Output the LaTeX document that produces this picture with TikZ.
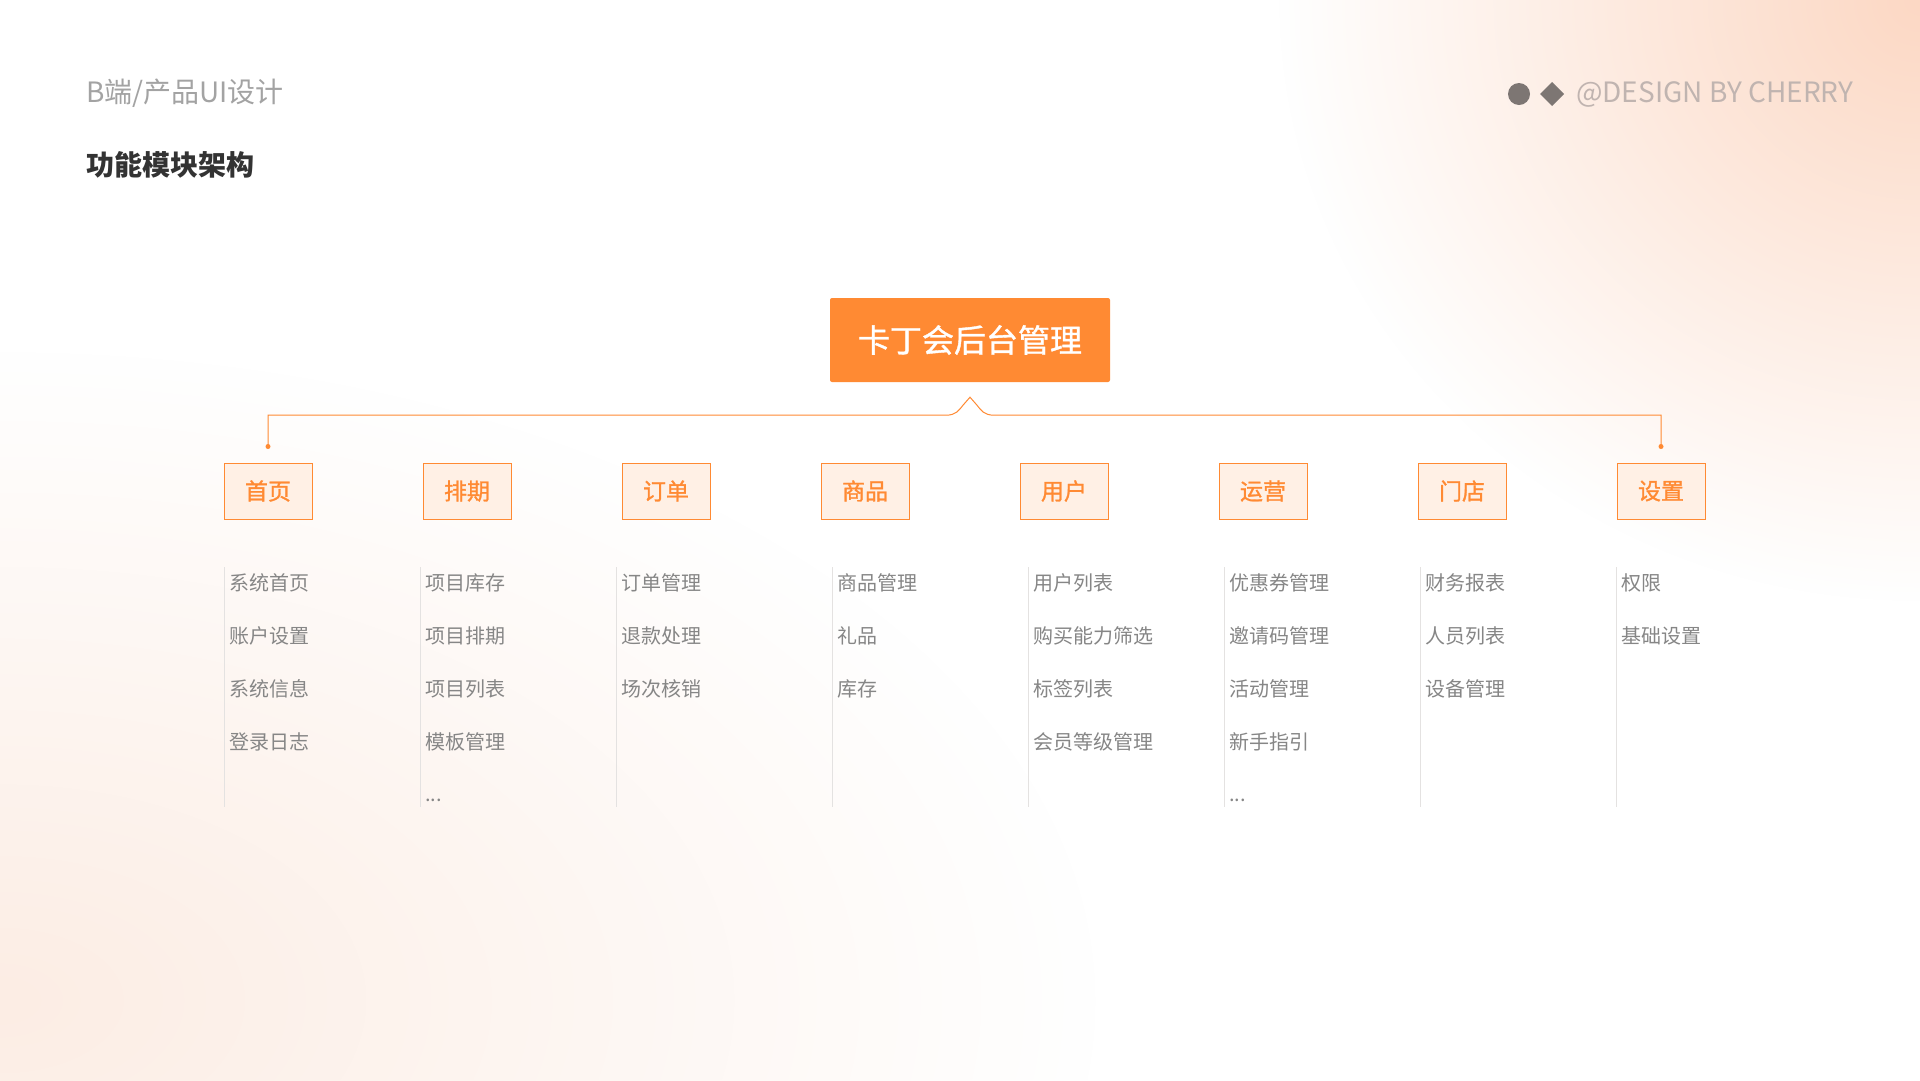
\documentclass[tikz,border=0pt]{standalone}
\usepackage{fontspec}
\setmainfont{Noto Sans CJK SC}
\newfontfamily\midfont[FakeBold=1.2]{Noto Sans CJK SC}
\usetikzlibrary{positioning, chains, fadings, calc}

\definecolor{kdOrange}{HTML}{FF8A33}
\definecolor{kdFill}{HTML}{FFF0E5}
\definecolor{itemGray}{HTML}{868686}
\definecolor{ruleGray}{HTML}{E4E2E1}
\definecolor{titleGray}{HTML}{A3A3A3}
\definecolor{darkText}{HTML}{333333}
\definecolor{markGray}{HTML}{7D7673}
\definecolor{signGray}{HTML}{C0B4B0}
\definecolor{bgPeach}{HTML}{FCD8C4}
\definecolor{bgPeachLight}{HTML}{FCEDE4}

\tikzfading[name=glow, inner color=transparent!0, outer color=transparent!100]

\tikzstyle{module} = [draw=kdOrange, line width=1pt, fill=kdFill, text=kdOrange, minimum width=88pt, minimum height=56pt, inner sep=0pt, font=\fontsize{23}{27}\midfont]
\tikzstyle{item} = [text=itemGray, text width=150pt, align=left, minimum height=24pt, inner sep=0pt, font=\fontsize{20}{24}\selectfont]
\tikzstyle{link} = [kdOrange, line width=1pt]

\begin{document}
\begin{tikzpicture}[
    x=1pt, y=-1pt,
    rule/.style={ruleGray, line width=1pt},
    every chain/.style={node distance=28.7pt}
]

% Background
\useasboundingbox (0,0) rectangle (1920,1080);
\fill[white] (0,0) rectangle (1920,1080);
\begin{scope}
\clip (0,0) rectangle (1920,1080);
\fill[bgPeach, path fading=glow] (1920,0) ellipse (640pt and 600pt);
\fill[bgPeachLight, path fading=glow] (0,1000) ellipse (1100pt and 650pt);
\end{scope}

% Header
\node[anchor=west, inner sep=0pt, text=titleGray, font=\fontsize{28}{32}\selectfont] (subject) at (86,93) {B端/产品UI设计};
\node[anchor=west, inner sep=0pt, text=darkText, font=\fontsize{28}{32}\selectfont\bfseries] (heading) at (86,165) {功能模块架构};
\fill[markGray] (1519,94) circle (11pt);
\fill[markGray] (1552,82) -- (1564,94) -- (1552,106) -- (1540,94) -- cycle;
\node[anchor=west, inner sep=0pt, text=signGray, font=\fontsize{28}{32}\selectfont] (sign) at (1576,94) {@DESIGN BY CHERRY};

% Nodes
\node[fill=kdOrange, rounded corners=2pt, minimum width=280pt, minimum height=84pt, inner sep=0pt, text=white, font=\fontsize{32}{36}\midfont] (main) at (970,340) {卡丁会后台管理};

\begin{scope}[start chain=modules going right, node distance=110pt]
\node[module, on chain] (home) at (268,491) {首页};
\node[module, on chain] (schedule) {排期};
\node[module, on chain] (order) {订单};
\node[module, on chain] (goods) {商品};
\node[module, on chain] (user) {用户};
\node[module, on chain] (operation) {运营};
\node[module, on chain] (store) {门店};
\node[module, on chain] (settings) {设置};
\end{scope}

% Bracket
\coordinate (peak) at ($(main.south)+(0,-15pt)$);
\coordinate (homeDrop) at ($(home.north)+(0,16pt)$);
\coordinate (setDrop) at ($(settings.north)+(0,16pt)$);
\draw[link] (homeDrop) |- ($(peak)+(-24pt,-18pt)$)
    .. controls +(10pt,0pt) and +(-4pt,-5pt) .. ($(peak)+(-7pt,-8pt)$) -- (peak)
    -- ($(peak)+(7pt,-8pt)$) .. controls +(4pt,-5pt) and +(-10pt,0pt) .. ($(peak)+(24pt,-18pt)$)
    -| (setDrop);
\fill[kdOrange] (homeDrop) circle (2.5pt);
\fill[kdOrange] (setDrop) circle (2.5pt);

% Lists
\draw[rule] (224,567) -- (224,807);
\draw[rule] (420,567) -- (420,807);
\draw[rule] (616,567) -- (616,807);
\draw[rule] (832,567) -- (832,807);
\draw[rule] (1028,567) -- (1028,807);
\draw[rule] (1224,567) -- (1224,807);
\draw[rule] (1420,567) -- (1420,807);
\draw[rule] (1616,567) -- (1616,807);

\begin{scope}[start chain=homeList going below]
\node[item, on chain] at (304,583) {系统首页};
\node[item, on chain] {账户设置};
\node[item, on chain] {系统信息};
\node[item, on chain] {登录日志};
\end{scope}

\begin{scope}[start chain=scheduleList going below]
\node[item, on chain] at (500,583) {项目库存};
\node[item, on chain] {项目排期};
\node[item, on chain] {项目列表};
\node[item, on chain] {模板管理};
\node[item, on chain, yshift=-6pt] {...};
\end{scope}

\begin{scope}[start chain=orderList going below]
\node[item, on chain] at (696,583) {订单管理};
\node[item, on chain] {退款处理};
\node[item, on chain] {场次核销};
\end{scope}

\begin{scope}[start chain=goodsList going below]
\node[item, on chain] at (912,583) {商品管理};
\node[item, on chain] {礼品};
\node[item, on chain] {库存};
\end{scope}

\begin{scope}[start chain=userList going below]
\node[item, on chain] at (1108,583) {用户列表};
\node[item, on chain] {购买能力筛选};
\node[item, on chain] {标签列表};
\node[item, on chain] {会员等级管理};
\end{scope}

\begin{scope}[start chain=operationList going below]
\node[item, on chain] at (1304,583) {优惠券管理};
\node[item, on chain] {邀请码管理};
\node[item, on chain] {活动管理};
\node[item, on chain] {新手指引};
\node[item, on chain, yshift=-6pt] {...};
\end{scope}

\begin{scope}[start chain=storeList going below]
\node[item, on chain] at (1500,583) {财务报表};
\node[item, on chain] {人员列表};
\node[item, on chain] {设备管理};
\end{scope}

\begin{scope}[start chain=settingsList going below]
\node[item, on chain] at (1696,583) {权限};
\node[item, on chain] {基础设置};
\end{scope}

\end{tikzpicture}
\end{document}
